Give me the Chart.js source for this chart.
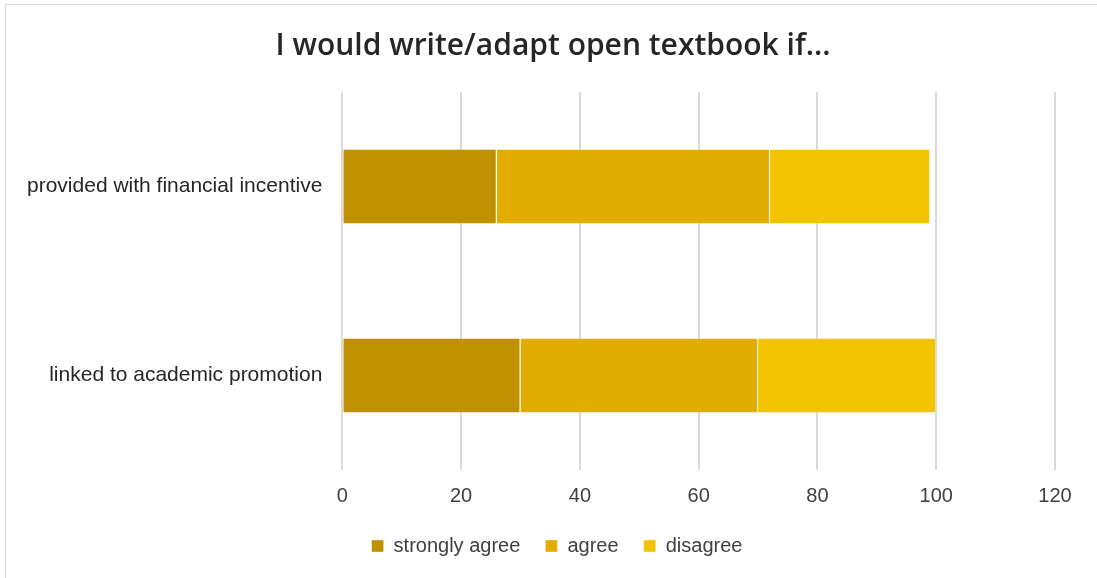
<!DOCTYPE html>
<html>
<head>
<meta charset="utf-8">
<script src="https://cdn.jsdelivr.net/npm/chart.js@4/dist/chart.umd.min.js"></script>
<style>
html,body{margin:0;padding:0;background:#fff;}
#wrap{position:relative;width:1097px;height:578px;overflow:hidden;}
#frame{position:absolute;left:5px;top:4px;width:1200px;height:700px;border:1px solid #d9d9d9;box-sizing:border-box;}
canvas{position:absolute;left:0;top:0;}
</style>
</head>
<body>
<div id="wrap">
<div id="frame"></div>
<canvas id="c" width="1097" height="578"></canvas>
</div>
<script>
const categories = ["provided with financial incentive", "linked to academic promotion"];
const seriesNames = ["strongly agree", "agree", "disagree"];
const stronglyAgree = [26, 30];
const agree = [46, 40];
const disagree = [27, 30];
const xTicks = [0, 20, 40, 60, 80, 100, 120];
const colors = ["#BF9000", "#E2AC00", "#F2C300"];

const seriesValues = [stronglyAgree, agree, disagree];
const datasets = seriesNames.map((n, i) => ({
  label: n,
  data: seriesValues[i],
  backgroundColor: colors[i],
  borderColor: "rgba(255,255,255,0.35)",
  borderWidth: 1,
  categoryPercentage: 0.8,
  barPercentage: 0.5
}));

const boxShift = {
  id: "boxShift",
  afterLayout(chart) {
    const lg = chart.legend;
    if (lg) { lg.left += 26; lg.right += 26; }
    const tb = chart.titleBlock;
    if (tb) { tb.left += 22; tb.right += 22; }
  }
};

new Chart(document.getElementById("c"), {
  type: "bar",
  data: { labels: categories, datasets },
  plugins: [boxShift],
  options: {
    indexAxis: "y",
    responsive: false,
    animation: false,
    layout: { padding: { left: 7, right: 42, top: 0, bottom: 12 } },
    plugins: {
      title: {
        display: true,
        text: "I would write/adapt open textbook if...",
        font: { family: "Open Sans", size: 30, weight: "600" },
        color: "#262626",
        padding: { top: 28, bottom: 28 }
      },
      legend: {
        display: true,
        position: "bottom",
        labels: {
          boxWidth: 12,
          boxHeight: 12,
          padding: 14,
          color: "#404040",
          font: { family: "Liberation Sans", size: 20 },
          generateLabels(chart) {
            const items = Chart.defaults.plugins.legend.labels.generateLabels(chart);
            items.forEach((it, i) => { if (i < items.length - 1) it.text = it.text + "  "; });
            return items;
          }
        }
      },
      tooltip: { enabled: false }
    },
    scales: {
      x: {
        stacked: true,
        min: 0,
        max: 120,
        afterBuildTicks: (s) => { s.ticks = xTicks.map(v => ({ value: v })); },
        grid: { color: "#d9d9d9", lineWidth: 2, drawTicks: false },
        border: { display: false },
        ticks: { color: "#404040", font: { family: "Liberation Sans", size: 20 }, padding: 14 }
      },
      y: {
        stacked: true,
        grid: { display: false, drawTicks: false },
        border: { display: false },
        ticks: { color: "#262626", font: { family: "Liberation Sans", size: 21 }, padding: 20 }
      }
    }
  }
});
</script>
</body>
</html>
